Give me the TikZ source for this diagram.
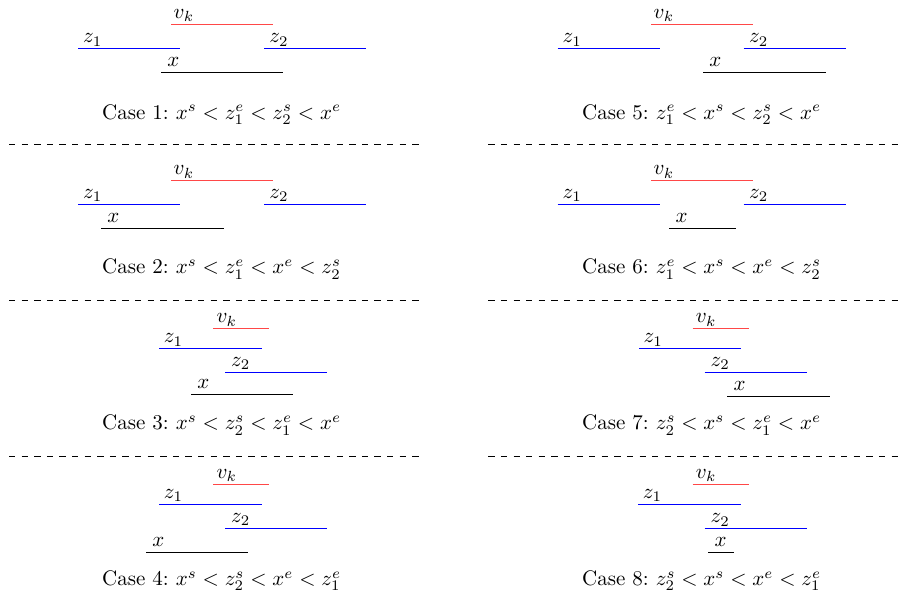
\documentclass[tikz,border=0pt]{standalone}
\usepackage{tikz}
\usetikzlibrary{calc}
\tikzset{
  vkseg/.style={draw=red!72, line width=0.45pt},
  zseg/.style={draw=blue, line width=0.45pt},
  xseg/.style={draw=black, line width=0.45pt},
  lab/.style={anchor=base west, inner sep=0pt, font=\fontsize{10}{12}\selectfont},
  captext/.style={anchor=base, inner sep=0pt, font=\fontsize{10}{12}\selectfont},
  sepline/.style={draw=black, dashed, line width=0.4pt}
}
\newcommand\ivl[7]{%
  \coordinate (#1s) at (#3,#5);
  \coordinate (#1e) at (#4,#5);
  \draw[#2] (#1s) -- (#1e);
  \node[lab] (#1l) at ($(#1s)+(#7,-5.7)$) {#6};
}
\begin{document}
\begin{tikzpicture}[x=0.47619pt, y=-0.47619pt]
\useasboundingbox (0,0) rectangle (901,596);
% Panel 1
\ivl{aV}{vkseg}{171}{273}{24.3}{$v_k$}{2.3}
\ivl{aA}{zseg}{78.3}{180.3}{48.7}{$z_1$}{4.4}
\ivl{aB}{zseg}{264}{366}{48.7}{$z_2$}{5}
\ivl{aX}{xseg}{161}{283.3}{72.3}{$x$}{6}
\node[captext] (c1) at (221.7,119.3) {Case 1:\ $x^s < z_1^e < z_2^s < x^e$};
% Panel 5
\ivl{eV}{vkseg}{651}{752.7}{24.3}{$v_k$}{2.3}
\ivl{eA}{zseg}{557.7}{660}{48.7}{$z_1$}{4.4}
\ivl{eB}{zseg}{743.7}{846}{48.7}{$z_2$}{5}
\ivl{eX}{xseg}{703}{825.7}{72.3}{$x$}{6}
\node[captext] (c5) at (701.7,119.3) {Case 5:\ $z_1^e < x^s < z_2^s < x^e$};
% Panel 2
\ivl{bV}{vkseg}{171}{273.3}{180.7}{$v_k$}{2.3}
\ivl{bA}{zseg}{78.3}{180.3}{204.3}{$z_1$}{4.4}
\ivl{bB}{zseg}{264}{366}{204.3}{$z_2$}{5}
\ivl{bX}{xseg}{101}{223.7}{228.7}{$x$}{6}
\node[captext] (c2) at (221.7,274) {Case 2:\ $x^s < z_1^e < x^e < z_2^s$};
% Panel 6
\ivl{fV}{vkseg}{651}{752.7}{180.7}{$v_k$}{2.3}
\ivl{fA}{zseg}{557.7}{660}{204.3}{$z_1$}{4.4}
\ivl{fB}{zseg}{743.7}{846}{204.3}{$z_2$}{5}
\ivl{fX}{xseg}{669.3}{735.7}{228.7}{$x$}{6}
\node[captext] (c6) at (701.7,274) {Case 6:\ $z_1^e < x^s < x^e < z_2^s$};
% Panel 3
\ivl{cV}{vkseg}{213.3}{269.3}{328.7}{$v_k$}{2.8}
\ivl{cA}{zseg}{159.3}{261.7}{348.7}{$z_1$}{4.2}
\ivl{cB}{zseg}{225.3}{327.3}{372.3}{$z_2$}{5.5}
\ivl{cX}{xseg}{191}{293}{394}{$x$}{6}
\node[captext] (c3) at (221.7,430) {Case 3:\ $x^s < z_2^s < z_1^e < x^e$};
% Panel 7
\ivl{gV}{vkseg}{692.7}{748.7}{328.7}{$v_k$}{2.8}
\ivl{gA}{zseg}{639}{741}{348.7}{$z_1$}{4.2}
\ivl{gB}{zseg}{704.7}{807}{372.3}{$z_2$}{5.5}
\ivl{gX}{xseg}{727.3}{829.7}{396.7}{$x$}{6}
\node[captext] (c7) at (701.7,430) {Case 7:\ $z_2^s < x^s < z_1^e < x^e$};
% Panel 4
\ivl{dV}{vkseg}{213.3}{269.3}{484.3}{$v_k$}{2.8}
\ivl{dA}{zseg}{159.3}{261.7}{504.3}{$z_1$}{4.2}
\ivl{dB}{zseg}{225.3}{327.3}{528}{$z_2$}{5.5}
\ivl{dX}{xseg}{146}{248.3}{552.3}{$x$}{6}
\node[captext] (c4) at (221.7,585.7) {Case 4:\ $x^s < z_2^s < x^e < z_1^e$};
% Panel 8
\ivl{hV}{vkseg}{692.7}{749}{484.3}{$v_k$}{2.8}
\ivl{hA}{zseg}{638.3}{741}{504.3}{$z_1$}{4.2}
\ivl{hB}{zseg}{704.7}{806.7}{528.7}{$z_2$}{5.5}
\ivl{hX}{xseg}{708.3}{734.3}{552.3}{$x$}{6}
\node[captext] (c8) at (701.7,585.7) {Case 8:\ $z_2^s < x^s < x^e < z_1^e$};
% separators
\coordinate (s1a) at (9,144.3);   \coordinate (s1b) at (422,144.3);
\coordinate (s1c) at (488.3,144.3); \coordinate (s1d) at (901,144.3);
\coordinate (s2a) at (9,300);     \coordinate (s2b) at (422,300);
\coordinate (s2c) at (488.3,300); \coordinate (s2d) at (901,300);
\coordinate (s3a) at (9,456);     \coordinate (s3b) at (422,456);
\coordinate (s3c) at (488.3,456); \coordinate (s3d) at (901,456);
\draw[sepline] (s1a) -- (s1b); \draw[sepline] (s1c) -- (s1d);
\draw[sepline] (s2a) -- (s2b); \draw[sepline] (s2c) -- (s2d);
\draw[sepline] (s3a) -- (s3b); \draw[sepline] (s3c) -- (s3d);
\end{tikzpicture}
\end{document}
